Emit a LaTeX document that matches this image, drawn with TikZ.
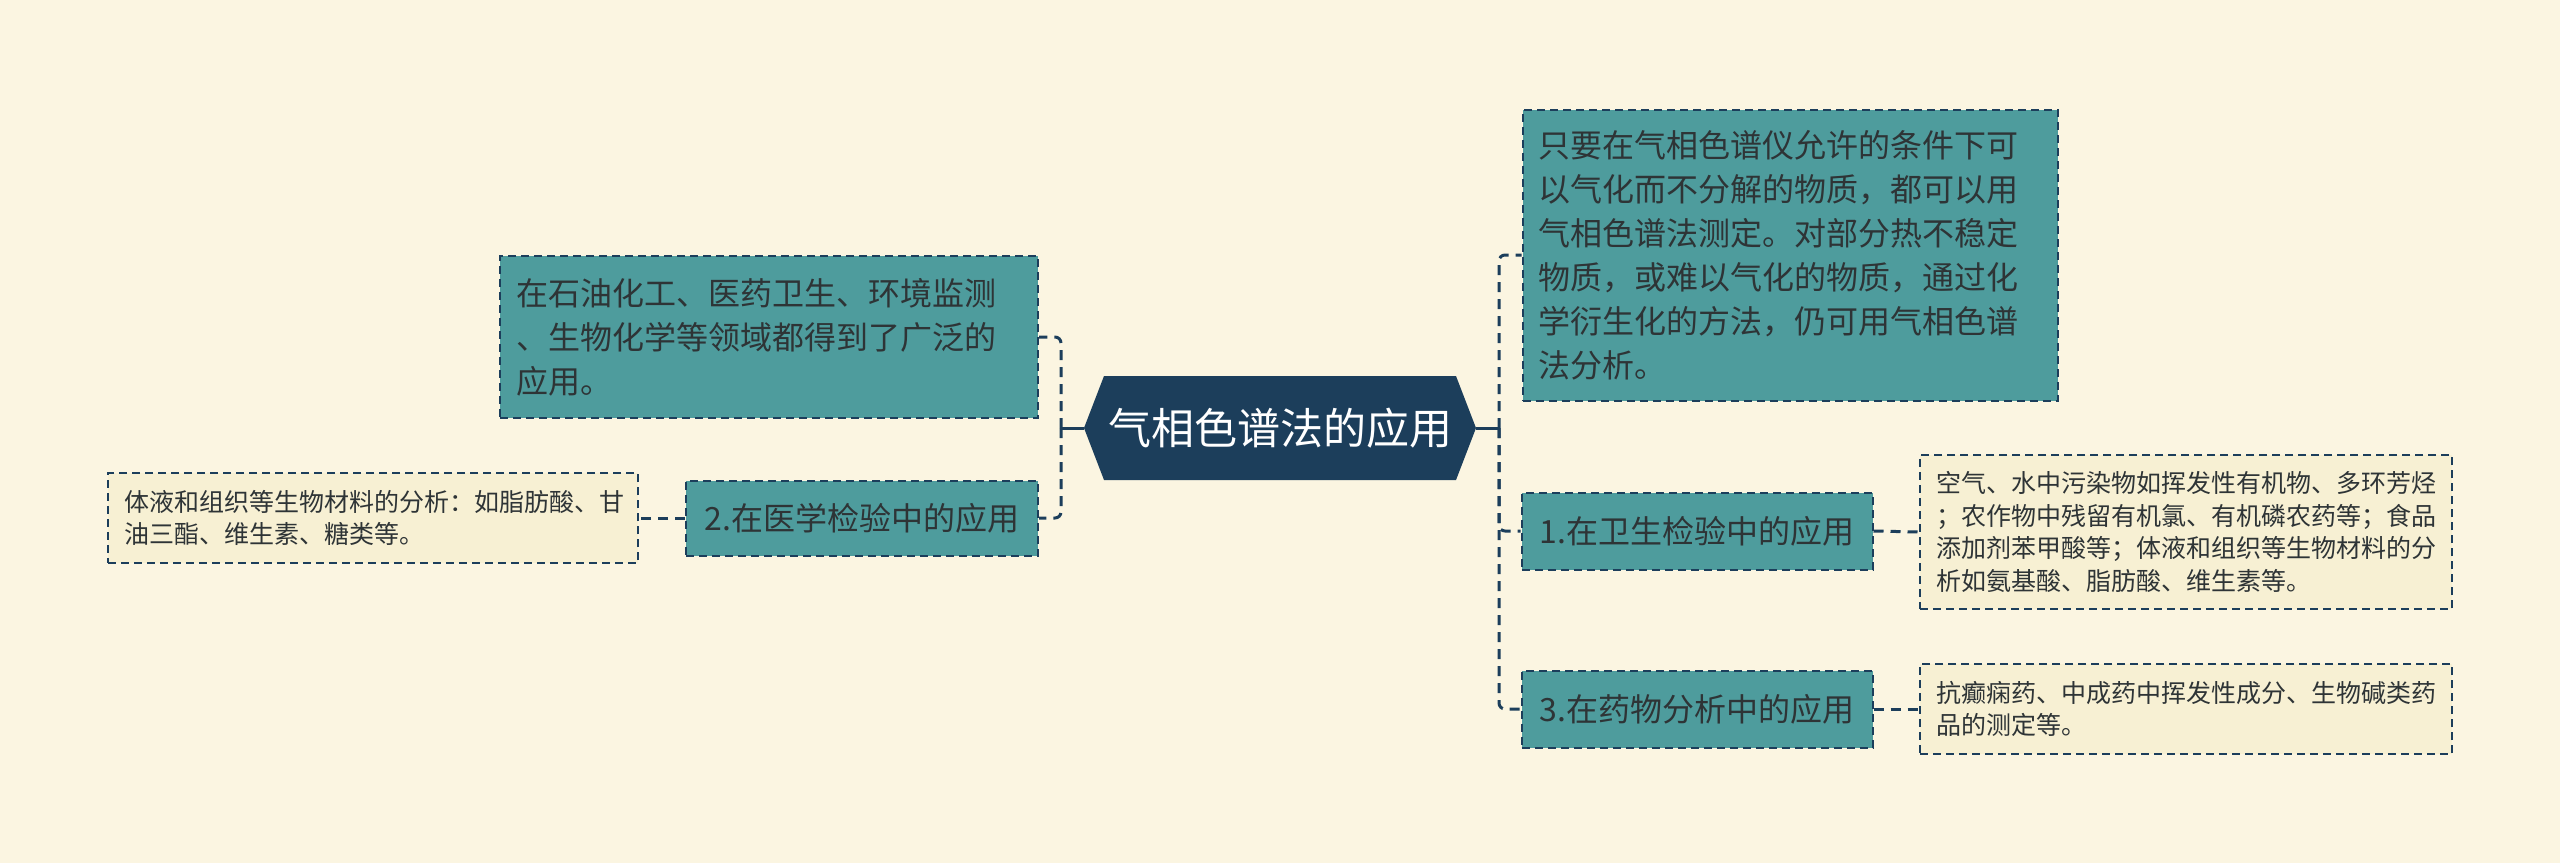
\documentclass[tikz,border=0pt]{standalone}
\usepackage{fontspec}
\setmainfont{Noto Sans CJK SC}
\definecolor{bg}{HTML}{FBF5E1}
\definecolor{navy}{HTML}{1C3E5B}
\definecolor{teal2}{HTML}{4E9C9D}
\definecolor{leaf}{HTML}{F7F0D3}
\definecolor{txt}{HTML}{2E3436}
\tikzset{
  conn/.style={draw=navy, line width=3pt, dash pattern=on 10pt off 7pt, rounded corners=6pt},
  stub/.style={draw=navy, line width=3pt},
  tealbox/.style={rectangle, fill=teal2, draw=navy, line width=2pt, dash pattern=on 8pt off 5pt,
    text=txt, font=\fontsize{32}{44}\selectfont, align=left, inner xsep=16pt, inner ysep=0pt},
  leafbox/.style={rectangle, fill=leaf, draw=navy, line width=1.6pt, dash pattern=on 8pt off 5pt,
    text=txt, font=\fontsize{25}{32.5}\selectfont, align=left, inner xsep=16pt, inner ysep=0pt},
}
\begin{document}
\begin{tikzpicture}[x=1pt,y=-1pt]
\useasboundingbox[fill=bg] (0,0) rectangle (2560,863);
% central hexagon
\fill[navy] (1084,428) -- (1104,376) -- (1456,376) -- (1476,428) -- (1456,480) -- (1104,480) -- cycle;
\node[minimum width=392pt, minimum height=104pt, inner sep=0pt, text=white,
  font=\fontsize{43}{50}\selectfont] (C) at (1280,428) {气相色谱法的应用};
% junctions
\coordinate (JL) at (1061,428);
\coordinate (JR) at (1499,428);
% nodes
\node[tealbox, text width=506pt, minimum height=162pt] (A) at (769,337)
  {在石油化工、医药卫生、环境监测\\、生物化学等领域都得到了广泛的\\应用。};
\node[tealbox, align=center, minimum width=352pt, minimum height=75pt] (N2) at (862,518)
  {2.在医学检验中的应用};
\node[leafbox, text width=498pt, minimum height=90pt] (L2) at (373,518)
  {体液和组织等生物材料的分析：如脂肪酸、甘\\油三酯、维生素、糖类等。};
\node[tealbox, text width=503pt, minimum height=291pt] (R0) at (1790,255)
  {只要在气相色谱仪允许的条件下可\\以气化而不分解的物质，都可以用\\气相色谱法测定。对部分热不稳定\\物质，或难以气化的物质，通过化\\学衍生化的方法，仍可用气相色谱\\法分析。};
\node[tealbox, align=center, minimum width=351pt, minimum height=77pt] (N1) at (1697,531)
  {1.在卫生检验中的应用};
\node[leafbox, text width=500pt, minimum height=154pt] (L1) at (2186,532)
  {空气、水中污染物如挥发性有机物、多环芳烃\\；农作物中残留有机氯、有机磷农药等；食品\\添加剂苯甲酸等；体液和组织等生物材料的分\\析如氨基酸、脂肪酸、维生素等。};
\node[tealbox, align=center, minimum width=351pt, minimum height=77pt] (N3) at (1697,709)
  {3.在药物分析中的应用};
\node[leafbox, text width=500pt, minimum height=90pt] (L3) at (2186,709)
  {抗癫痫药、中成药中挥发性成分、生物碱类药\\品的测定等。};
% connectors
\draw[stub] (C.west) -- (JL);
\draw[stub] (C.east) -- (JR);
\draw[conn] (JL) |- (A.east);
\draw[conn] (JL) |- (N2.east);
\draw[conn] (JR) |- (R0.west);
\draw[conn] (JR) |- (N1.west);
\draw[conn] (JR) |- (N3.west);
\draw[conn] (N2.west) -- (L2.east);
\draw[conn] (N1.east) -- (L1.west);
\draw[conn] (N3.east) -- (L3.west);
\end{tikzpicture}
\end{document}
